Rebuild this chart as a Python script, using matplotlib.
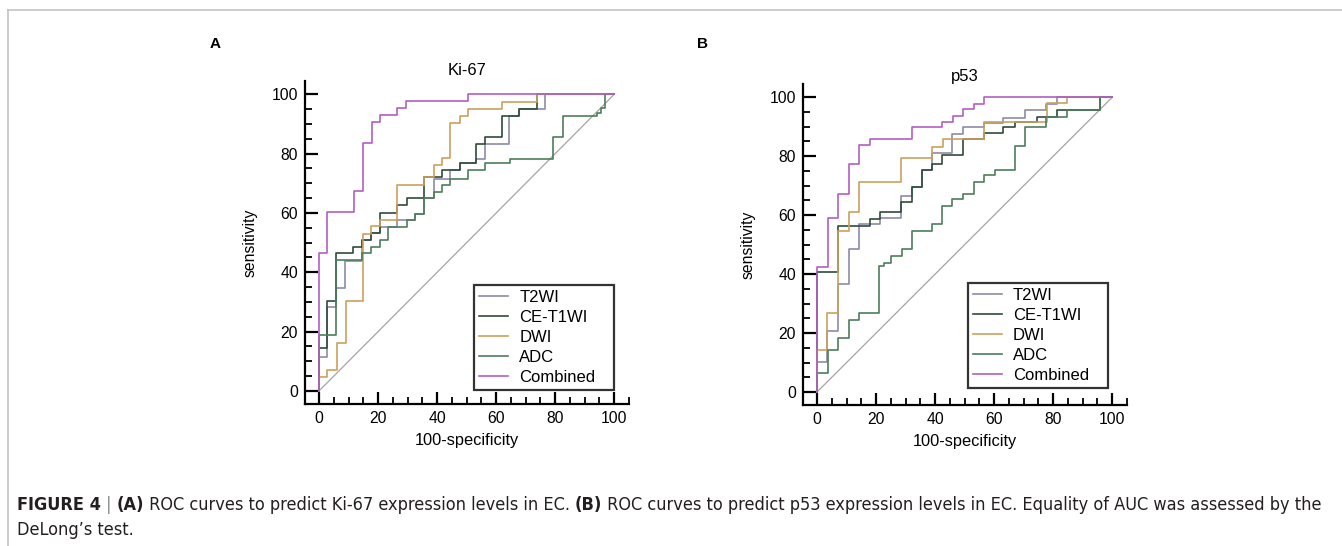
import matplotlib
matplotlib.use("Agg")
import matplotlib.pyplot as plt
from matplotlib import font_manager
from matplotlib.ticker import MultipleLocator
from matplotlib.lines import Line2D

# ---- data (100-specificity, sensitivity), step corners ----
series = ["T2WI", "CE-T1WI", "DWI", "ADC", "Combined"]
colors = ["#8d8aa8", "#2e4c3a", "#c9a15e", "#4d7d5c", "#b25fc2"]

# Ki-67
ki_t2_x = [0, 0, 2.8, 5.8, 8.8, 14.7, 17.7, 20.7, 26.3, 32.5, 35.6, 38.8, 44.4, 47.6, 53.3, 56.3, 64.5, 67.9, 76.6, 100]
ki_t2_y = [0, 11.5, 28.2, 34.6, 43.9, 51, 53.3, 55.3, 57.6, 59.8, 65, 71.6, 74.4, 77, 78.3, 83.4, 92.8, 95, 100, 100]
ki_ce_x = [0, 0, 2.8, 5.8, 8.8, 11.6, 14.7, 17.7, 20.7, 26.3, 29.7, 35.6, 41.6, 47.6, 53.3, 56.3, 61.9, 67.9, 73.8, 100]
ki_ce_y = [0, 14.4, 30.4, 46.4, 46.4, 48.7, 51, 53.3, 60, 62.6, 64.9, 72, 74.4, 77, 83.4, 85.6, 92.6, 95, 100, 100]
ki_dwi_x = [0, 0, 2.8, 6, 9, 14.8, 17.7, 20.7, 26.4, 35.7, 38.8, 41.6, 44.4, 47.6, 50.3, 62, 73.8, 100]
ki_dwi_y = [0, 4.8, 7.1, 16.3, 30.4, 53, 55.5, 57.6, 69.4, 72, 76.3, 78.5, 90.3, 92.8, 95, 97.4, 100, 100]
ki_adc_x = [0, 0, 2.8, 5.8, 11.6, 14.7, 17.7, 20.7, 23.5, 29.7, 32.5, 35.6, 38.8, 41.6, 44.4, 50.3, 56.3, 64.7, 79.4, 82.6, 94.1, 95.5, 97, 100]
ki_adc_y = [0, 18.9, 18.9, 44, 44, 46.4, 48.7, 50.8, 55.3, 57.6, 59.8, 64.9, 67.1, 69.4, 71.6, 74.4, 76.7, 78.3, 85.6, 92.6, 93.8, 95.5, 100, 100]
ki_comb_x = [0, 0, 2.8, 12, 15, 18, 20.5, 26.5, 29.5, 50.5, 100]
ki_comb_y = [0, 46.5, 60.5, 67.4, 83.7, 90.7, 93, 95.3, 97.7, 100, 100]

# p53
p_t2_x = [0, 0, 3.5, 7.1, 10.7, 14.1, 18, 21.4, 28.5, 32.2, 35.6, 38.9, 45.7, 49.6, 56.7, 63, 70.5, 77.7, 81.3, 100]
p_t2_y = [0, 10.3, 20.6, 36.5, 48.5, 57, 57, 59, 66.5, 69.5, 75.2, 81, 87.7, 90, 91.4, 93, 95.7, 97.7, 100, 100]
p_ce_x = [0, 0, 7.1, 18, 21.4, 28.5, 32.2, 35.6, 38.9, 42.3, 49.6, 56.7, 63, 67, 74.5, 81.3, 96, 100]
p_ce_y = [0, 40.7, 56.4, 58.7, 61, 64.4, 69.5, 75.2, 77.5, 80.3, 86, 88, 90, 91.7, 93.4, 95.7, 100, 100]
p_dwi_x = [0, 0, 3.5, 7.1, 10.7, 14.1, 28.5, 38.9, 42.6, 56.5, 77.9, 84.7, 100]
p_dwi_y = [0, 14.3, 26.9, 54.7, 61, 71.2, 79.5, 83, 86, 91.7, 98, 100, 100]
p_adc_x = [0, 0, 3.6, 7.1, 10.7, 14.1, 21.1, 22.6, 25.2, 28.8, 32.2, 38.9, 42.3, 45.7, 49.6, 53.3, 56.7, 60.4, 67.2, 70.5, 77.7, 84.7, 95.9, 100]
p_adc_y = [0, 6.4, 14.3, 18.3, 24.6, 26.9, 42.8, 43.9, 46.2, 48.5, 54.7, 57, 63.2, 65.5, 67.2, 71.2, 73.5, 75.4, 83.4, 90, 93.4, 95.7, 100, 100]
p_comb_x = [0, 0, 3.6, 7, 10.7, 14.1, 17.8, 32.2, 42.3, 46, 49.6, 53.3, 56.7, 100]
p_comb_y = [0, 42.4, 59, 67.2, 77.5, 83.7, 85.7, 90, 91.7, 93.6, 95.9, 97.7, 100, 100]

panels = [
    ("A", "Ki-67", [(ki_t2_x, ki_t2_y), (ki_ce_x, ki_ce_y), (ki_dwi_x, ki_dwi_y),
                    (ki_adc_x, ki_adc_y), (ki_comb_x, ki_comb_y)]),
    ("B", "p53", [(p_t2_x, p_t2_y), (p_ce_x, p_ce_y), (p_dwi_x, p_dwi_y),
                  (p_adc_x, p_adc_y), (p_comb_x, p_comb_y)]),
]

plt.rcParams["font.family"] = ["Liberation Sans", "DejaVu Sans"]

W, H = 1342, 546
fig = plt.figure(figsize=(W / 100, H / 100), dpi=100)

# light frame on top and left
fig.add_artist(Line2D([8 / W, 1], [1 - 10 / H, 1 - 10 / H], color="#c4c4c4", lw=1.2))
fig.add_artist(Line2D([8 / W, 8 / W], [0, 1 - 10 / H], color="#c4c4c4", lw=1.2))

ax_rects = [[305 / W, 1 - 404 / H, 324 / W, 323 / H],
            [803 / W, 1 - 405 / H, 324 / W, 321 / H]]
letter_pos = [(210 / W, 1 - 44 / H), (697 / W, 1 - 44 / H)]
title_pads = [4, 2]
leg_anchor = [(0.522, 0.043, 0.432, 0.33), (0.509, 0.053, 0.432, 0.33)]

for i, ((letter, title, curves), rect, lp) in enumerate(zip(panels, ax_rects, letter_pos)):
    ax = fig.add_axes(rect)
    ax.plot([0, 100], [0, 100], color="#a8a2a2", lw=0.9)
    for (fx, ty), name, col in zip(curves, series, colors):
        ax.plot(fx, ty, drawstyle="steps-post", color=col, lw=1.2, label=name)
    ax.set_xlim(-4.75, 105)
    ax.set_ylim(-4.4, 104.5)
    for s in ["top", "right"]:
        ax.spines[s].set_visible(False)
    for s in ["left", "bottom"]:
        ax.spines[s].set_linewidth(1.6)
    ax.xaxis.set_major_locator(MultipleLocator(20))
    ax.xaxis.set_minor_locator(MultipleLocator(5))
    ax.yaxis.set_major_locator(MultipleLocator(20))
    ax.yaxis.set_minor_locator(MultipleLocator(5))
    ax.set_xticks(range(0, 101, 20))
    ax.set_yticks(range(0, 101, 20))
    ax.tick_params(which="major", direction="in", length=9, width=1.6, labelsize=11.3, pad=5)
    ax.tick_params(which="minor", direction="in", length=5, width=1.3)
    ax.set_xlabel("100-specificity", fontsize=11.8, labelpad=5)
    ax.set_ylabel("sensitivity", fontsize=11.3, labelpad=10)
    ax.set_title(title, fontsize=12, pad=title_pads[i])
    leg = ax.legend(loc="lower left", bbox_to_anchor=leg_anchor[i], mode="expand",
                    borderaxespad=0, fontsize=12, frameon=True, fancybox=False,
                    handlelength=1.75, handletextpad=0.65, labelspacing=0.3, borderpad=0.3)
    leg.get_frame().set_edgecolor("black")
    leg.get_frame().set_linewidth(1.6)
    fig.text(lp[0], lp[1], letter, fontsize=11, fontweight="bold", ha="left", va="center")

# caption with mixed bold segments; prefer a condensed face if one is installed
cap_family = ["Liberation Sans", "DejaVu Sans"]
cap_stretch = "normal"
for f in font_manager.fontManager.ttflist:
    if "Narrow" in f.name or "Condensed" in f.fname:
        cap_family = [f.name, "DejaVu Sans"]
        cap_stretch = f.stretch
        break

line1 = [("FIGURE 4", "bold", "#231f20"), (" | ", "normal", "#888888"), ("(A)", "bold", "#231f20"),
         (" ROC curves to predict Ki-67 expression levels in EC. ", "normal", "#231f20"),
         ("(B)", "bold", "#231f20"),
         (" ROC curves to predict p53 expression levels in EC. Equality of AUC was assessed by the",
          "normal", "#231f20")]
line2 = [("DeLong\u2019s test.", "normal", "#231f20")]

renderer = fig.canvas.get_renderer()


def draw_line(segs, y, size):
    x = 17
    arts = []
    for txt, wt, col in segs:
        t = fig.text(x / W, y, txt, fontsize=size, fontweight=wt, color=col,
                     family=cap_family, fontstretch=cap_stretch, ha="left", va="center")
        bb = t.get_window_extent(renderer)
        x += bb.width
        arts.append(t)
    return x, arts


end, arts = draw_line(line1, 1 - 505 / H, 12)
for a in arts:
    a.remove()
cap_size = min(14, 12 * (1325 - 17) / (end - 17))
draw_line(line1, 1 - 505 / H, cap_size)
draw_line(line2, 1 - 530 / H, cap_size)

fig.savefig("out.png", dpi=100)
